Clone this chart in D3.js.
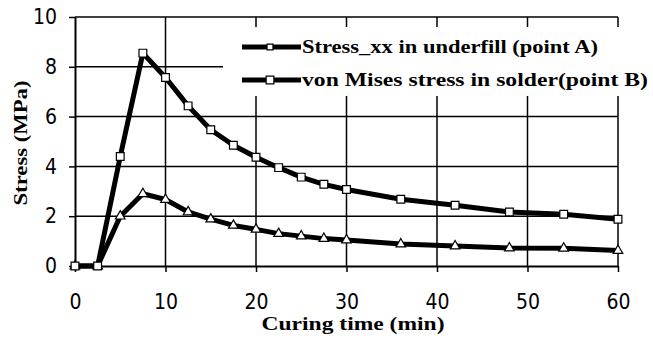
<!DOCTYPE html>
<html>
<head>
<meta charset="utf-8">
<script src="https://cdn.jsdelivr.net/npm/d3@7"></script>
<style>
  body { margin: 0; background: #fff; }
  .tick text { font-family: "Liberation Sans Narrow", "DejaVu Sans Condensed", sans-serif; }
</style>
</head>
<body>
<script>
// curing time (min) and stresses (MPa)
var timeA = [0, 2.5, 5, 7.5, 10, 12.5, 15, 17.5, 20, 22.5, 25, 27.5, 30, 36, 42, 48, 54, 60];
var stressA = [0, 0, 2.0, 2.9, 2.67, 2.17, 1.88, 1.63, 1.47, 1.3, 1.2, 1.1, 1.04, 0.88, 0.8, 0.72, 0.71, 0.62];
var timeB = [0, 2.5, 5, 7.5, 10, 12.5, 15, 17.5, 20, 22.5, 25, 27.5, 30, 36, 42, 48, 54, 60];
var stressB = [0, 0, 4.4, 8.55, 7.57, 6.43, 5.47, 4.85, 4.37, 3.95, 3.57, 3.28, 3.07, 2.68, 2.44, 2.17, 2.08, 1.88];
var xTicks = [0, 10, 20, 30, 40, 50, 60];
var yTicks = [0, 2, 4, 6, 8, 10];
var legendLabels = ["Stress_xx in underfill (point A)", "von Mises stress in solder(point B)"];

var width = 653, height = 339;

var svg = d3.select("body").append("svg")
    .attr("width", width)
    .attr("height", height);

var x = d3.scaleLinear().domain([0, 60]).range([75, 618]);
var y = d3.scaleLinear().domain([0, 10]).range([266, 17]);

// grid
svg.append("g").selectAll("line")
    .data(yTicks.slice(1))
  .enter().append("line")
    .attr("x1", x(0)).attr("x2", x(60))
    .attr("y1", function(d) { return y(d); })
    .attr("y2", function(d) { return y(d); })
    .attr("stroke", "#000").attr("stroke-width", 1.5);

svg.append("g").selectAll("line")
    .data(xTicks.slice(1))
  .enter().append("line")
    .attr("y1", y(0)).attr("y2", y(10))
    .attr("x1", function(d) { return x(d); })
    .attr("x2", function(d) { return x(d); })
    .attr("stroke", "#000").attr("stroke-width", 1.5);

// axes
var xAxis = svg.append("g")
    .attr("transform", "translate(0," + y(0) + ")")
    .call(d3.axisBottom(x).tickValues(xTicks).tickSize(6).tickPadding(22).tickSizeOuter(0));
var yAxis = svg.append("g")
    .attr("transform", "translate(" + x(0) + ",0)")
    .call(d3.axisLeft(y).tickValues(yTicks).tickSize(6).tickPadding(12).tickSizeOuter(0));

[xAxis, yAxis].forEach(function(a) {
  a.select(".domain").attr("stroke", "#000").attr("stroke-width", 2);
  a.selectAll(".tick line").attr("stroke", "#000").attr("stroke-width", 1.5);
  a.selectAll(".tick text").attr("fill", "#000").style("font-size", "21px");
});

// legend background hides the grid behind it
svg.append("rect")
    .attr("x", 223).attr("y", 27)
    .attr("width", 430).attr("height", 69)
    .attr("fill", "#fff");

var line = d3.line()
    .x(function(d) { return x(d[0]); })
    .y(function(d) { return y(d[1]); });

var dataA = d3.zip(timeA, stressA);
var dataB = d3.zip(timeB, stressB);

function drawSeries(data, marker) {
  svg.append("path")
      .datum(data)
      .attr("d", line)
      .attr("fill", "none")
      .attr("stroke", "#000")
      .attr("stroke-width", 5)
      .attr("stroke-linejoin", "round");
  svg.append("g").selectAll("path")
      .data(data)
    .enter().append("path")
      .attr("transform", function(d) { return "translate(" + x(d[0]) + "," + y(d[1]) + ")"; })
      .attr("d", d3.symbol().type(marker).size(marker === d3.symbolSquare ? 60 : 40))
      .attr("fill", "#fff")
      .attr("stroke", "#000")
      .attr("stroke-width", 1.2);
}

drawSeries(dataA, d3.symbolTriangle);
drawSeries(dataB, d3.symbolSquare);

// legend
var leg = svg.append("g");
var legY = [47, 80];
var legMarkers = [d3.symbolSquare, d3.symbolSquare];
var legSize = [35, 60];
var legLen = [296, 346];
legendLabels.forEach(function(t, i) {
  leg.append("line")
      .attr("x1", 242).attr("x2", 301)
      .attr("y1", legY[i]).attr("y2", legY[i])
      .attr("stroke", "#000").attr("stroke-width", 5);
  leg.append("path")
      .attr("transform", "translate(270," + legY[i] + ")")
      .attr("d", d3.symbol().type(legMarkers[i]).size(legSize[i]))
      .attr("fill", "#fff").attr("stroke", "#000").attr("stroke-width", 1.2);
  leg.append("text")
      .attr("x", 302).attr("y", legY[i] + 6)
      .attr("textLength", legLen[i])
      .attr("lengthAdjust", "spacingAndGlyphs")
      .style("font-family", "Liberation Serif, serif")
      .style("font-weight", "bold")
      .style("font-size", "18px")
      .text(t);
});

// axis titles
svg.append("text")
    .attr("x", 353).attr("y", 330)
    .attr("text-anchor", "middle")
    .attr("textLength", 183)
    .attr("lengthAdjust", "spacingAndGlyphs")
    .style("font-family", "Liberation Serif, serif")
    .style("font-weight", "bold")
    .style("font-size", "19px")
    .text("Curing time (min)");

svg.append("text")
    .attr("transform", "translate(27,143) rotate(-90)")
    .attr("text-anchor", "middle")
    .attr("textLength", 125)
    .attr("lengthAdjust", "spacingAndGlyphs")
    .style("font-family", "Liberation Serif, serif")
    .style("font-weight", "bold")
    .style("font-size", "19px")
    .text("Stress (MPa)");
</script>
</body>
</html>
